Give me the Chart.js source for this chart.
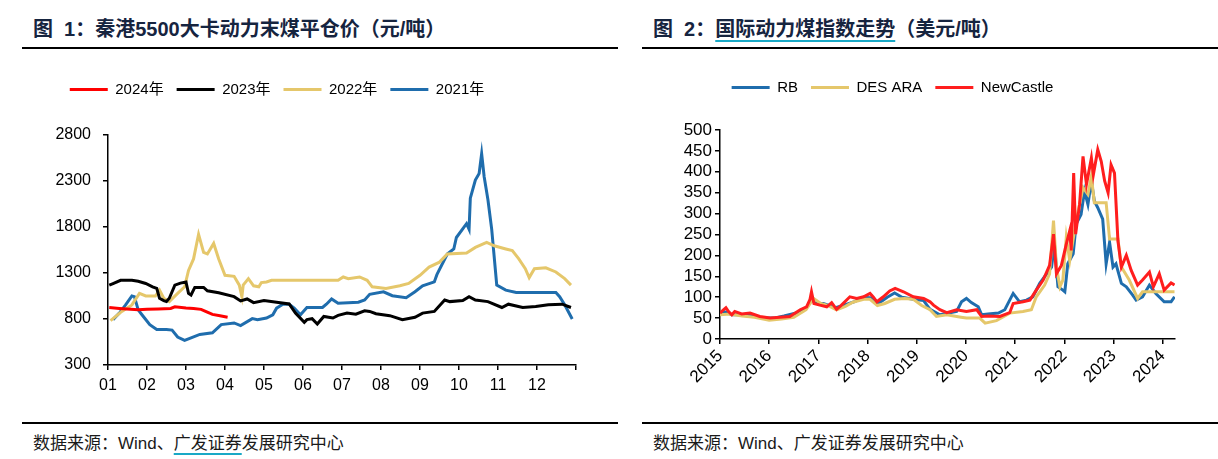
<!DOCTYPE html>
<html>
<head>
<meta charset="utf-8">
<script src="https://cdn.jsdelivr.net/npm/chart.js@4.4.1/dist/chart.umd.min.js"></script>
<style>
  html, body { margin:0; padding:0; background:#fff; width:1218px; height:459px; overflow:hidden; position:relative; }
  .title { position:absolute; top:16px; font-family:"Liberation Sans","Noto Sans CJK SC",sans-serif; font-weight:bold; font-size:20px; line-height:26px; color:#16243f; white-space:pre; }
  .rule { position:absolute; height:2px; background:#000; }
  .src { position:absolute; top:432px; font-family:"Liberation Sans","Noto Sans CJK SC",sans-serif; font-size:17px; line-height:24px; color:#1a1a1a; white-space:pre; }
  .ul { text-decoration:underline; text-decoration-color:#19a9c6; text-decoration-thickness:2px; text-underline-offset:4px; }
  canvas { position:absolute; }
</style>
</head>
<body>
<div class="title" style="left:33px;">图  1：秦港5500大卡动力末煤平仓价（元/吨）</div>
<div class="title" style="left:653px;">图  2：<span class="ul">国际动力煤指数走势</span>（美元/吨）</div>
<div class="rule" style="left:22px; width:596px; top:47px;"></div>
<div class="rule" style="left:642px; width:576px; top:47px;"></div>
<div class="rule" style="left:22px; width:596px; top:422px;"></div>
<div class="rule" style="left:642px; width:576px; top:422px;"></div>
<div class="src" style="left:33px;">数据来源：Wind、<span class="ul">广发证券</span>发展研究中心</div>
<div class="src" style="left:653px;">数据来源：Wind、广发证券发展研究中心</div>

<div style="position:absolute;left:-22px;top:60px;width:640px;height:340px;"><canvas id="c1"></canvas></div>
<div style="position:absolute;left:610px;top:60px;width:608px;height:340px;"><canvas id="c2"></canvas></div>

<script>
// ---------------- Chart 1 data: 秦港5500大卡动力末煤平仓价 (元/吨) ----------------
const monthLabels = ['01','02','03','04','05','06','07','08','09','10','11','12',''];
const seriesNames1 = ['2024年','2023年','2022年','2021年'];

const dates2024 = ['01-02','01-10','01-19','01-25','02-01','02-09','02-18','02-21','03-01','03-07','03-13','03-17','03-22','03-28','04-03'];
const price2024 = [925,915,905,900,905,910,915,932,920,915,905,880,850,835,820];

const dates2023 = ['01-02','01-05','01-11','01-20','01-25','01-31','02-05','02-08','02-10','02-13','02-15','02-17','02-21','02-25','03-01','03-03','03-05','03-08','03-15','03-18','03-27','04-08','04-13','04-18','04-23','05-01','05-11','05-21','05-26','06-02','06-04','06-08','06-12','06-17','06-24','06-28','07-05','07-12','07-19','07-23','07-28','08-08','08-18','08-28','09-03','09-12','09-20','09-24','10-04','10-09','10-14','10-24','11-04','11-09','11-20','11-30','12-10','12-21','12-28'];
const price2023 = [1168,1185,1221,1221,1210,1186,1150,1132,1025,1000,990,1025,1168,1190,1203,1080,1061,1143,1143,1107,1086,1043,996,1018,978,1000,982,964,864,764,793,803,746,828,811,839,864,853,889,882,857,836,793,818,864,882,1007,989,1000,1043,1007,989,925,961,925,936,954,961,925];

const dates2022 = ['01-03','01-12','01-20','01-26','01-31','02-07','02-10','02-13','02-17','02-23','02-28','03-03','03-07','03-11','03-15','03-18','03-23','03-27','04-01','04-08','04-12','04-14','04-15','04-19','04-23','04-27','04-29','05-03','05-07','06-28','07-02','07-06','07-15','07-21','07-25','08-05','08-16','08-23','09-01','09-08','09-16','09-22','10-07','10-14','10-23','10-29','11-07','11-12','11-17','11-22','11-25','11-29','12-08','12-16','12-23','12-28'];
const price2022 = [782,882,953,1078,1050,1050,1114,1025,989,1078,1150,1328,1453,1721,1525,1507,1621,1453,1275,1264,1168,1043,1168,1239,1161,1150,1196,1203,1221,1221,1257,1239,1257,1221,1150,1132,1161,1186,1275,1364,1418,1507,1518,1578,1632,1596,1561,1543,1453,1346,1250,1346,1357,1311,1239,1168];

const dates2021 = ['01-05','01-10','01-15','01-20','01-22','01-25','01-28','02-03','02-08','02-15','02-19','02-23','02-28','03-05','03-12','03-22','03-29','04-08','04-13','04-22','04-26','05-03','05-08','05-11','05-16','05-21','05-25','05-30','06-04','06-16','06-19','06-23','06-28','07-14','07-19','07-23','08-03','08-10','08-21','08-28','09-03','09-12','09-14','09-22','09-27','09-29','10-07','10-09','10-10','10-14','10-17','10-19','10-21','10-24','10-27','10-31','11-07','11-15','12-16','12-19','12-23','12-29'];
const price2021 = [793,864,953,1050,1043,900,846,739,686,686,679,604,568,596,632,650,739,757,729,804,793,811,846,918,961,961,918,846,925,925,961,1018,971,982,1007,1068,1096,1053,1032,1096,1161,1203,1282,1507,1561,1686,1836,1775,2114,2311,2382,2596,2346,2096,1775,1168,1114,1089,1089,1043,954,800];

const yTicks1 = { min: 300, max: 2800, step: 500 };
const colors1 = ['#ff0000', '#000000', '#e5c76b', '#1f6dad'];

// ---------------- Chart 2 data: 国际动力煤指数走势 (美元/吨) ----------------
const seriesNames2 = ['RB', 'DES ARA', 'NewCastle'];
const rbYears = [2015.00,2015.10,2015.24,2015.44,2015.70,2015.90,2016.10,2016.30,2016.55,2016.76,2016.86,2016.95,2017.10,2017.35,2017.55,2017.75,2017.92,2018.10,2018.22,2018.40,2018.55,2018.70,2018.93,2019.14,2019.27,2019.47,2019.81,2019.91,2020.01,2020.11,2020.25,2020.32,2020.45,2020.66,2020.79,2020.96,2021.09,2021.23,2021.36,2021.50,2021.64,2021.74,2021.80,2021.87,2021.97,2022.01,2022.07,2022.18,2022.24,2022.34,2022.41,2022.48,2022.55,2022.61,2022.68,2022.78,2022.85,2022.92,2022.99,2023.05,2023.16,2023.26,2023.39,2023.46,2023.59,2023.73,2023.86,2024.03,2024.17,2024.24];
const rbValues = [60,65,58,58,55,50,50,55,62,75,95,85,85,75,82,90,100,98,85,100,110,100,95,92,71,58,66,89,97,87,77,58,60,62,70,109,89,93,101,133,156,172,227,125,117,113,180,204,275,298,354,322,378,330,314,287,180,231,172,180,133,125,105,93,101,129,109,89,89,101];

const desYears = [2015.00,2015.20,2015.45,2015.70,2016.00,2016.25,2016.50,2016.75,2016.90,2017.05,2017.20,2017.37,2017.55,2017.70,2017.92,2018.05,2018.20,2018.35,2018.55,2018.75,2018.93,2019.10,2019.27,2019.40,2019.61,2019.90,2020.01,2020.28,2020.39,2020.62,2020.89,2021.16,2021.33,2021.43,2021.60,2021.70,2021.78,2021.84,2021.91,2021.97,2022.04,2022.11,2022.24,2022.38,2022.48,2022.55,2022.61,2022.85,2022.92,2023.09,2023.16,2023.32,2023.49,2023.59,2023.86,2024.24];
const desValues = [58,60,55,52,45,48,52,70,97,85,80,70,78,88,95,95,80,85,95,97,95,80,70,54,58,52,50,50,38,44,62,66,70,101,129,156,283,172,125,141,243,188,283,362,346,389,326,326,239,239,172,141,97,113,113,113];

const ncYears = [2015.00,2015.07,2015.12,2015.17,2015.24,2015.30,2015.44,2015.61,2015.81,2016.02,2016.22,2016.42,2016.63,2016.76,2016.83,2016.86,2016.91,2017.03,2017.17,2017.27,2017.37,2017.47,2017.64,2017.78,2017.92,2018.05,2018.12,2018.19,2018.32,2018.45,2018.56,2018.73,2018.93,2019.14,2019.27,2019.34,2019.47,2019.61,2019.81,2020.01,2020.22,2020.32,2020.45,2020.69,2020.89,2020.96,2021.16,2021.30,2021.43,2021.57,2021.70,2021.78,2021.84,2021.94,2022.04,2022.11,2022.14,2022.19,2022.23,2022.31,2022.38,2022.45,2022.50,2022.55,2022.59,2022.68,2022.75,2022.82,2022.89,2022.95,2023.02,2023.09,2023.16,2023.26,2023.36,2023.49,2023.59,2023.73,2023.81,2023.93,2024.03,2024.17,2024.24];
const ncValues = [62,70,75,66,58,66,60,62,54,50,52,54,70,77,95,113,85,81,77,87,71,81,101,97,101,109,100,89,101,115,121,113,101,97,89,81,70,63,70,66,70,54,55,54,63,85,89,93,117,141,176,251,156,176,227,259,212,397,251,322,437,370,401,433,393,453,425,378,350,417,397,235,172,200,164,129,141,160,125,156,117,134,129];

const yTicks2 = { min: 0, max: 500, step: 50 };
const xRange2 = { min: 2015, max: 2024.25 };
const colors2 = ['#1f6dad', '#e5c76b', '#ff1e1e'];

// ---------------- helpers ----------------
const DIM = [31,28,31,30,31,30,31,31,30,31,30,31];
function monthPos(s) { const [m, d] = s.split('-').map(Number); return (m - 1) + (d - 1) / DIM[m - 1]; }
function pts(xs, ys, f) { return xs.map((x, i) => ({ x: f ? f(x) : x, y: ys[i] })); }

const FONT = '"Liberation Sans","Noto Sans CJK SC",sans-serif';
Chart.defaults.font.family = FONT;
Chart.defaults.color = '#000';

function legendGap(extra) {
  return {
    id: 'legendGap',
    beforeLayout(chart) {
      const lg = chart.legend;
      if (lg && !lg._gapPatched) {
        const orig = lg.fit;
        lg.fit = function () { orig.call(this); this.height += extra; };
        lg._gapPatched = true;
      }
    }
  };
}

function legendOpts() {
  return {
    display: true,
    position: 'top',
    labels: {
      usePointStyle: true,
      pointStyle: 'line',
      pointStyleWidth: 38,
      font: { size: 15, family: FONT },
      color: '#000',
      padding: 13,
      sort: (a, b) => a.datasetIndex - b.datasetIndex
    }
  };
}

function axisStyle(tickLen) {
  return {
    border: { display: true, color: '#000', width: 1.5 },
    grid: { display: true, drawOnChartArea: false, drawTicks: true, tickLength: tickLen, color: '#000', lineWidth: 1.5 }
  };
}

// ---------------- Chart 1 ----------------
const ds1 = [
  { label: seriesNames1[0], data: pts(dates2024, price2024, monthPos) },
  { label: seriesNames1[1], data: pts(dates2023, price2023, monthPos) },
  { label: seriesNames1[2], data: pts(dates2022, price2022, monthPos) },
  { label: seriesNames1[3], data: pts(dates2021, price2021, monthPos) }
].map((d, i) => Object.assign(d, {
  borderColor: colors1[i], backgroundColor: colors1[i], borderWidth: 3,
  pointRadius: 0, tension: 0, fill: false
}));

new Chart(document.getElementById('c1'), {
  type: 'line',
  data: { datasets: ds1 },
  plugins: [legendGap(28)],
  options: {
    responsive: true, maintainAspectRatio: false, animation: false,
    layout: { padding: { left: 0, right: 42, top: 9, bottom: 5 } },
    plugins: { legend: legendOpts(), tooltip: { enabled: false } },
    scales: {
      x: Object.assign(axisStyle(5), {
        type: 'linear', min: 0, max: 12,
        ticks: { stepSize: 1, autoSkip: false, maxRotation: 0, minRotation: 0, padding: 6,
                 font: { size: 16 }, color: '#000',
                 callback: (v) => monthLabels[v] !== undefined ? monthLabels[v] : '' },
        afterFit: (s) => { s.height = 30; }
      }),
      y: Object.assign(axisStyle(5), {
        type: 'linear', min: yTicks1.min, max: yTicks1.max,
        ticks: { stepSize: yTicks1.step, padding: 12, font: { size: 16 }, color: '#000',
                 callback: (v) => String(v) },
        afterFit: (s) => { s.width = 130; }
      })
    }
  }
});

// ---------------- Chart 2 ----------------
const ds2 = [
  { label: seriesNames2[0], data: pts(rbYears, rbValues), order: 2 },
  { label: seriesNames2[1], data: pts(desYears, desValues), order: 1 },
  { label: seriesNames2[2], data: pts(ncYears, ncValues), order: 0 }
].map((d, i) => Object.assign(d, {
  borderColor: colors2[i], backgroundColor: colors2[i], borderWidth: 3,
  pointRadius: 0, tension: 0, fill: false
}));

new Chart(document.getElementById('c2'), {
  type: 'line',
  data: { datasets: ds2 },
  plugins: [legendGap(25)],
  options: {
    responsive: true, maintainAspectRatio: false, animation: false,
    layout: { padding: { left: 0, right: 43, top: 7, bottom: 11 } },
    plugins: { legend: legendOpts(), tooltip: { enabled: false } },
    scales: {
      x: Object.assign(axisStyle(5), {
        type: 'linear', min: xRange2.min, max: xRange2.max,
        ticks: { stepSize: 1, includeBounds: false, autoSkip: false, maxRotation: 45, minRotation: 45, padding: 2,
                 font: { size: 17 }, color: '#000',
                 callback: (v) => Number.isInteger(v) ? String(v) : '' },
        afterFit: (s) => { s.height = 50; }
      }),
      y: Object.assign(axisStyle(5), {
        type: 'linear', min: yTicks2.min, max: yTicks2.max,
        ticks: { stepSize: yTicks2.step, autoSkip: false, padding: 3, font: { size: 17 }, color: '#000',
                 callback: (v) => String(v) },
        afterFit: (s) => { s.width = 110; }
      })
    }
  }
});
</script>
</body>
</html>
